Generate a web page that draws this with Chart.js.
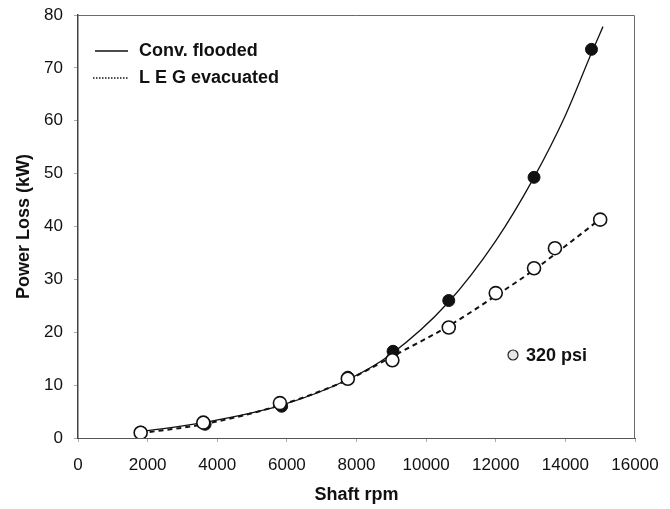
<!DOCTYPE html>
<html>
<head>
<meta charset="utf-8">
<script src="https://cdn.jsdelivr.net/npm/chart.js@4.4.0/dist/chart.umd.min.js"></script>
<style>
  body { margin: 0; background: #fff; }
</style>
</head>
<body>
<canvas id="myChart" width="670" height="509"></canvas>
<script>
// measured points
const rpmFlooded = [1800, 3650, 5850, 7750, 9050, 10650, 13100, 14750];
const kwFlooded = [1.1, 2.6, 6.0, 11.5, 16.4, 26.0, 49.3, 73.5];

const rpmEvac = [1800, 3600, 5800, 7750, 9030, 10650, 12000, 13100, 13700, 15000];
const kwEvac = [1.0, 2.9, 6.6, 11.2, 14.7, 20.9, 27.4, 32.1, 35.9, 41.3];

// trend curves
const rpmFloodedFit = [1800, 3600, 5800, 7800, 9000, 10600, 12000, 13100, 14000, 14750, 15080];
const kwFloodedFit = [1.2, 2.9, 6.1, 11.2, 15.9, 25.4, 37.3, 49.3, 61.0, 72.8, 77.8];

const rpmEvacFit = [1800, 3600, 5800, 7750, 9050, 10650, 12000, 13100, 14000, 15000];
const kwEvacFit = [0.9, 2.6, 6.2, 11.0, 15.5, 21.2, 26.9, 31.8, 36.3, 41.4];

const xTicks = [0, 2000, 4000, 6000, 8000, 10000, 12000, 14000, 16000];
const yTicks = [0, 10, 20, 30, 40, 50, 60, 70, 80];

const legendLabels = ['Conv. flooded', 'L E G evacuated'];
const noteLabel = '320 psi';

const FONT = '"Liberation Sans", Arial, sans-serif';

const pts = (xs, ys) => xs.map((x, i) => ({ x: x, y: ys[i] }));

const extras = {
    id: 'extras',
    afterDraw(chart) {
        const ctx = chart.ctx;
        const a = chart.chartArea;
        ctx.save();
        // frame
        ctx.strokeStyle = '#6a6a6a';
        ctx.lineWidth = 1;
        ctx.beginPath();
        ctx.moveTo(a.left, a.top + 0.5);
        ctx.lineTo(a.right - 0.5, a.top + 0.5);
        ctx.lineTo(a.right - 0.5, a.bottom);
        ctx.stroke();

        // legend
        ctx.strokeStyle = '#111';
        ctx.lineWidth = 1.5;
        ctx.beginPath();
        ctx.moveTo(95, 51);
        ctx.lineTo(128, 51);
        ctx.stroke();
        ctx.setLineDash([1.5, 1.5]);
        ctx.beginPath();
        ctx.moveTo(93, 78);
        ctx.lineTo(128, 78);
        ctx.stroke();
        ctx.setLineDash([]);

        ctx.fillStyle = '#111';
        ctx.font = 'bold 18px ' + FONT;
        ctx.textBaseline = 'middle';
        ctx.textAlign = 'left';
        ctx.fillText(legendLabels[0], 139, 51);
        ctx.fillText(legendLabels[1], 139, 78);

        // 320 psi note
        ctx.fillText(noteLabel, 526, 356);
        ctx.beginPath();
        ctx.arc(513, 355, 5, 0, Math.PI * 2);
        ctx.fillStyle = '#e6e6e6';
        ctx.fill();
        ctx.strokeStyle = '#222';
        ctx.lineWidth = 1.2;
        ctx.stroke();
        ctx.restore();
    }
};

new Chart(document.getElementById('myChart'), {
    type: 'scatter',
    data: {
        datasets: [
            {
                label: 'Conv. flooded fit',
                data: pts(rpmFloodedFit, kwFloodedFit),
                showLine: true,
                borderColor: '#111',
                borderWidth: 1.3,
                pointRadius: 0,
                cubicInterpolationMode: 'monotone',
                order: 4
            },
            {
                label: 'L E G evacuated fit',
                data: pts(rpmEvacFit, kwEvacFit),
                showLine: true,
                borderColor: '#111',
                borderWidth: 2,
                borderDash: [5, 4],
                pointRadius: 0,
                cubicInterpolationMode: 'monotone',
                order: 3
            },
            {
                label: 'Conv. flooded',
                data: pts(rpmFlooded, kwFlooded),
                pointRadius: 6,
                pointBackgroundColor: '#111',
                pointBorderColor: '#111',
                pointBorderWidth: 1,
                order: 2
            },
            {
                label: 'L E G evacuated',
                data: pts(rpmEvac, kwEvac),
                pointRadius: 6.5,
                pointBackgroundColor: '#fff',
                pointBorderColor: '#111',
                pointBorderWidth: 1.6,
                order: 1
            }
        ]
    },
    options: {
        responsive: false,
        animation: false,
        devicePixelRatio: 1,
        layout: { padding: { top: 15, right: 35, left: 0, bottom: 0 } },
        plugins: {
            legend: { display: false },
            tooltip: { enabled: false }
        },
        scales: {
            x: {
                type: 'linear',
                min: 0,
                max: 16000,
                afterBuildTicks: s => { s.ticks = xTicks.map(v => ({ value: v })); },
                afterFit: s => {
                    s.height = 71;
                    s.paddingLeft = 0;
                    s.paddingRight = 0;
                },
                grid: { drawOnChartArea: false, tickLength: 4, color: '#aaa' },
                border: { color: '#555', width: 1 },
                ticks: {
                    padding: 13,
                    maxRotation: 0,
                    color: '#111',
                    font: { family: FONT, size: 17 },
                    callback: v => String(v)
                },
                title: {
                    display: true,
                    text: 'Shaft rpm',
                    color: '#111',
                    font: { family: FONT, size: 18, weight: 'bold' },
                    padding: { top: 0, bottom: 3 }
                }
            },
            y: {
                min: 0,
                max: 80,
                afterBuildTicks: s => { s.ticks = yTicks.map(v => ({ value: v })); },
                afterFit: s => {
                    s.width = 78;
                    s.paddingTop = 0;
                    s.paddingBottom = 0;
                },
                grid: { drawOnChartArea: false, tickLength: 4, color: '#aaa' },
                border: { color: '#444', width: 1.5 },
                ticks: {
                    padding: 11,
                    color: '#111',
                    font: { family: FONT, size: 17 },
                    callback: v => String(v)
                },
                title: {
                    display: true,
                    text: 'Power Loss (kW)',
                    color: '#111',
                    font: { family: FONT, size: 18, weight: 'bold' },
                    padding: { top: 13, bottom: 0 }
                }
            }
        }
    },
    plugins: [extras]
});
</script>
</body>
</html>
